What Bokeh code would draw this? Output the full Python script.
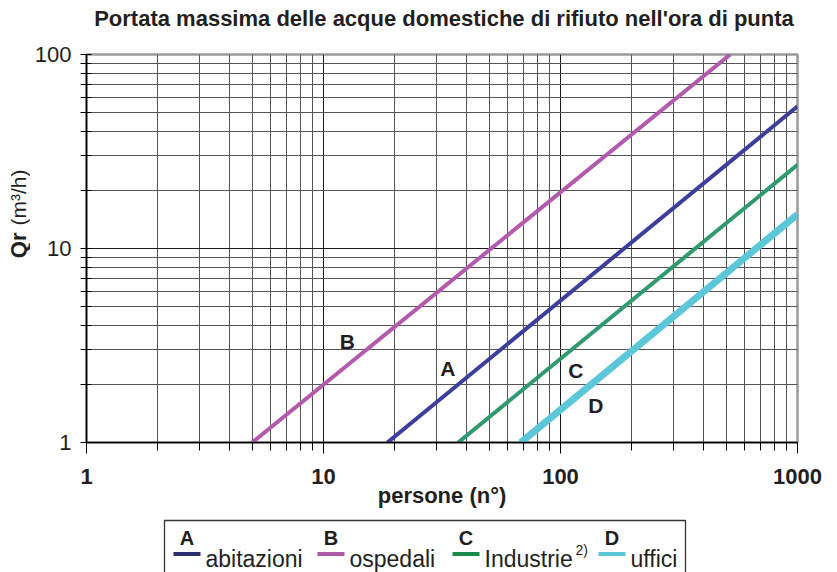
import numpy as np
from bokeh.plotting import figure
from bokeh.models import FixedTicker, Range1d
from bokeh.layouts import column, row
from bokeh.embed import file_html
from bokeh.resources import INLINE
from bokeh.core.properties import value

# ---------------- data ----------------
title_text = "Portata massima delle acque domestiche di rifiuto nell'ora di punta"
x_title = "persone (n°)"
y_title_bold = "Qr"
y_title_rest = "(m³/h)"

series_letters = ["A", "B", "C", "D"]
series_names = ["abitazioni", "ospedali", "Industrie", "uffici"]
series_note = ["", "", "2)", ""]

# persone (n°) -> Qr (m3/h), straight lines on log-log paper (start, end)
persone_A = [18.6, 1000.0]
qr_A = [1.0, 54.0]
persone_B = [5.0, 520.0]
qr_B = [1.0, 100.0]
persone_C = [37.0, 1000.0]
qr_C = [1.0, 27.0]
persone_D = [68.0, 1000.0]
qr_D = [1.0, 15.0]

# in-chart curve letters (data coordinates)
letter_x = [33.5, 12.6, 116.0, 141.0]
letter_y = [2.42, 3.32, 2.34, 1.55]

x_ticks = [1, 10, 100, 1000]
x_tick_labels = ["1", "10", "100", "1000"]
y_ticks = [1, 10, 100]
y_tick_labels = ["1", "10", "100"]

# ---------------- styling / layout ----------------
FONT = "Liberation Sans"
TXT = "#231f20"
line_colors = ["#3d3d9c", "#b25aab", "#2f9a6e", "#5bc7d9"]
legend_colors = ["#2e2d72", "#ad5aa8", "#1c8a48", "#5bc6da"]
line_widths = [4, 4, 4, 7]

x_minor = [m * 10 ** k for k in range(3) for m in range(2, 10)]
y_minor = [m * 10 ** k for k in range(2) for m in range(2, 10)]

YW = 30                  # width of the y-title strip
BL, BR = 56, 32          # borders of the main column (frame at page x 86..797)
FW = 711
FX0, FX1 = YW + BL, YW + BL + FW
PAGE_H = 572
TITLE_H = 38


def blank(height, y0, y1):
    f = figure(frame_width=FW, frame_height=height,
               x_range=Range1d(FX0, FX1), y_range=Range1d(y1, y0),
               x_axis_location=None, y_axis_location=None,
               min_border_left=BL, min_border_right=BR,
               min_border_top=0, min_border_bottom=0,
               outline_line_color=None,
               output_backend="svg", toolbar_location=None)
    f.grid.visible = False
    return f


# ---------------- title strip ----------------
tfig = blank(TITLE_H, 0, TITLE_H)
tfig.text(x=[(FX0 + FX1) / 2 + 2], y=[17.5], text=[title_text],
          text_font=value(FONT), text_font_style="bold", text_font_size="22px",
          text_color=TXT, text_align="center", text_baseline="middle")

# ---------------- main chart ----------------
p = figure(frame_width=FW, frame_height=388,
           x_axis_type="log", y_axis_type="log",
           x_range=Range1d(1, 1000), y_range=Range1d(1, 100),
           min_border_left=BL, min_border_right=BR,
           min_border_top=54 - TITLE_H, min_border_bottom=70,
           output_backend="svg", toolbar_location=None)

p.outline_line_color = "#9a9a9a"
p.outline_line_width = 2.5

xs_all = [persone_A, persone_B, persone_C, persone_D]
ys_all = [qr_A, qr_B, qr_C, qr_D]
for xs, ys, c, w in zip(xs_all, ys_all, line_colors, line_widths):
    p.line(xs, ys, line_color=c, line_width=w)

p.xaxis.ticker = FixedTicker(ticks=x_ticks, minor_ticks=x_minor)
p.yaxis.ticker = FixedTicker(ticks=y_ticks, minor_ticks=y_minor)
p.xaxis.major_label_overrides = {t: l for t, l in zip(x_ticks, x_tick_labels)}
p.yaxis.major_label_overrides = {t: l for t, l in zip(y_ticks, y_tick_labels)}

for ax in (p.xaxis, p.yaxis):
    ax.axis_line_color = "black"
    ax.axis_line_width = 1.5
    ax.major_tick_line_color = "black"
    ax.minor_tick_line_color = "black"
    ax.major_label_text_font = FONT
    ax.major_label_text_font_size = "22px"
    ax.major_label_text_color = TXT

p.xaxis.major_label_text_font_style = "bold"
p.xaxis.major_tick_in = 0
p.xaxis.major_tick_out = 11
p.xaxis.minor_tick_in = 0
p.xaxis.minor_tick_out = 8
p.xaxis.major_label_standoff = 15
p.xaxis.axis_label = x_title
p.xaxis.axis_label_text_font = FONT
p.xaxis.axis_label_text_font_style = "bold"
p.xaxis.axis_label_text_font_size = "22px"
p.xaxis.axis_label_text_color = TXT
p.xaxis.axis_label_standoff = -4

p.yaxis.major_tick_in = 5
p.yaxis.major_tick_out = 6
p.yaxis.minor_tick_in = 5
p.yaxis.minor_tick_out = 6
p.yaxis.major_label_standoff = 9

for g in (p.xgrid, p.ygrid):
    g.grid_line_color = "#1a1a1a"
    g.grid_line_width = 1
    g.minor_grid_line_color = "#555555"
    g.minor_grid_line_width = 1

p.text(x=letter_x, y=letter_y, text=series_letters,
       text_font=value(FONT), text_font_style="bold", text_font_size="21px",
       text_color=TXT, text_align="center", text_baseline="middle")

# ---------------- legend strip (data units = page pixels) ----------------
LT, LB = 512, PAGE_H
leg = blank(LB - LT, LT, LB)

box_left, box_right, box_top = 164, 685, 520
leg.multi_line(xs=[[box_left, box_left, box_right, box_right]],
               ys=[[LB + 5, box_top, box_top, LB + 5]],
               line_color="#333333", line_width=1.3)

sw_left = [173, 317, 452, 598]
sw_w = 27
sw_y = 553.5
x1 = [a + sw_w for a in sw_left]
leg.segment(x0=sw_left, y0=[sw_y] * 4, x1=x1, y1=[sw_y] * 4,
            line_color=legend_colors, line_width=4)
leg.text(x=[a + sw_w / 2 for a in sw_left], y=[537] * 4, text=series_letters,
         text_font=value(FONT), text_font_style="bold", text_font_size="20px",
         text_color=TXT, text_align="center", text_baseline="middle")
leg.text(x=[a + 5 for a in x1], y=[558] * 4, text=series_names,
         text_font=value(FONT), text_font_size="23px",
         text_color=TXT, text_align="left", text_baseline="middle")
leg.text(x=[575], y=[549], text=[series_note[2]],
         text_font=value(FONT), text_font_size="14px",
         text_color=TXT, text_align="left", text_baseline="middle")

# ---------------- y-title strip (data units = page pixels) ----------------
yfig = figure(frame_width=YW, frame_height=PAGE_H,
              x_range=Range1d(0, YW), y_range=Range1d(PAGE_H, 0),
              x_axis_location=None, y_axis_location=None,
              min_border=0, outline_line_color=None,
              output_backend="svg", toolbar_location=None)
yfig.grid.visible = False
yfig.text(x=[17.5], y=[232], text=[y_title_bold], angle=np.pi / 2,
          text_font=value(FONT), text_font_style="bold", text_font_size="22px",
          text_color=TXT, text_align="right", text_baseline="middle")
yfig.text(x=[17.5], y=[225], text=[y_title_rest], angle=np.pi / 2,
          text_font=value(FONT), text_font_size="21px",
          text_color=TXT, text_align="left", text_baseline="middle")

layout = row(yfig, column(tfig, p, leg, spacing=0), spacing=0)
open("out.html", "w").write(file_html(layout, INLINE))
